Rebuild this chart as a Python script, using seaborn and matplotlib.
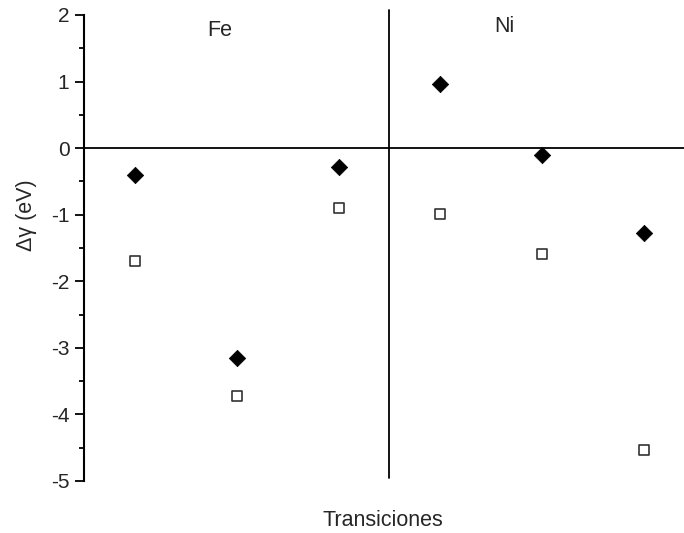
import matplotlib
matplotlib.use("Agg")
import matplotlib.pyplot as plt
import seaborn as sns
import pandas as pd

sns.set_style("white")
plt.rcParams["font.family"] = ["Liberation Sans", "DejaVu Sans"]
plt.rcParams["axes.unicode_minus"] = False

# Transition index (1-3: Fe, 4-6: Ni)
transiciones = [1, 2, 3, 4, 5, 6]
delta_gamma_filled = [-0.40, -3.15, -0.28, 0.97, -0.10, -1.27]
delta_gamma_open = [-1.70, -3.72, -0.90, -0.99, -1.59, -4.54]
group_labels = ["Fe", "Ni"]

df = pd.DataFrame({
    "x": transiciones * 2,
    "y": delta_gamma_filled + delta_gamma_open,
    "serie": ["a"] * 6 + ["b"] * 6,
})

fig = plt.figure(figsize=(6.84, 5.33), dpi=100)
# axes extends slightly past the right edge of the figure
ax = fig.add_axes([84 / 684, 52 / 533, (695 - 84) / 684, (481 - 15) / 533])

sns.scatterplot(data=df[df.serie == "a"], x="x", y="y", ax=ax, marker="D",
                color="black", s=70, edgecolor="black", linewidth=0.5, legend=False)
sns.scatterplot(data=df[df.serie == "b"], x="x", y="y", ax=ax, marker="s",
                facecolor="white", edgecolor="#333333", s=50, linewidth=1.2, legend=False)

ax.set_xlim(0.5, 6.5)
ax.set_ylim(-5, 2)

ax.axhline(0, color="black", lw=1.3, zorder=0)
ax.plot([3.5, 3.5], [-4.95, 2.08], color="black", lw=1.3, clip_on=False, zorder=0)

for s in ["top", "right", "bottom"]:
    ax.spines[s].set_visible(False)
ax.spines["left"].set_linewidth(1.5)
ax.spines["left"].set_color("black")

ax.set_xticks([])
ax.set_yticks([-5, -4, -3, -2, -1, 0, 1, 2])
ax.set_yticks([-4.5, -3.5, -2.5, -1.5, -0.5, 0.5, 1.5], minor=True)
ax.tick_params(axis="y", which="major", direction="out", length=6.5, width=1.3,
               labelsize=15, left=True, pad=4, color="black")
ax.tick_params(axis="y", which="minor", direction="out", length=3.6, width=1.3,
               left=True, color="black")

ax.set_xlabel("Transiciones", fontsize=15.5)
ax.xaxis.set_label_coords(0.489, -0.062)
ax.set_ylabel("Δγ (eV)", fontsize=15.5)
ax.yaxis.set_label_coords(-0.077, 0.571)

ax.text(1.83, 1.77, group_labels[0], fontsize=15.5, ha="center", va="center")
ax.text(4.63, 1.83, group_labels[1], fontsize=15.5, ha="center", va="center")

fig.savefig("out.png", dpi=100)
